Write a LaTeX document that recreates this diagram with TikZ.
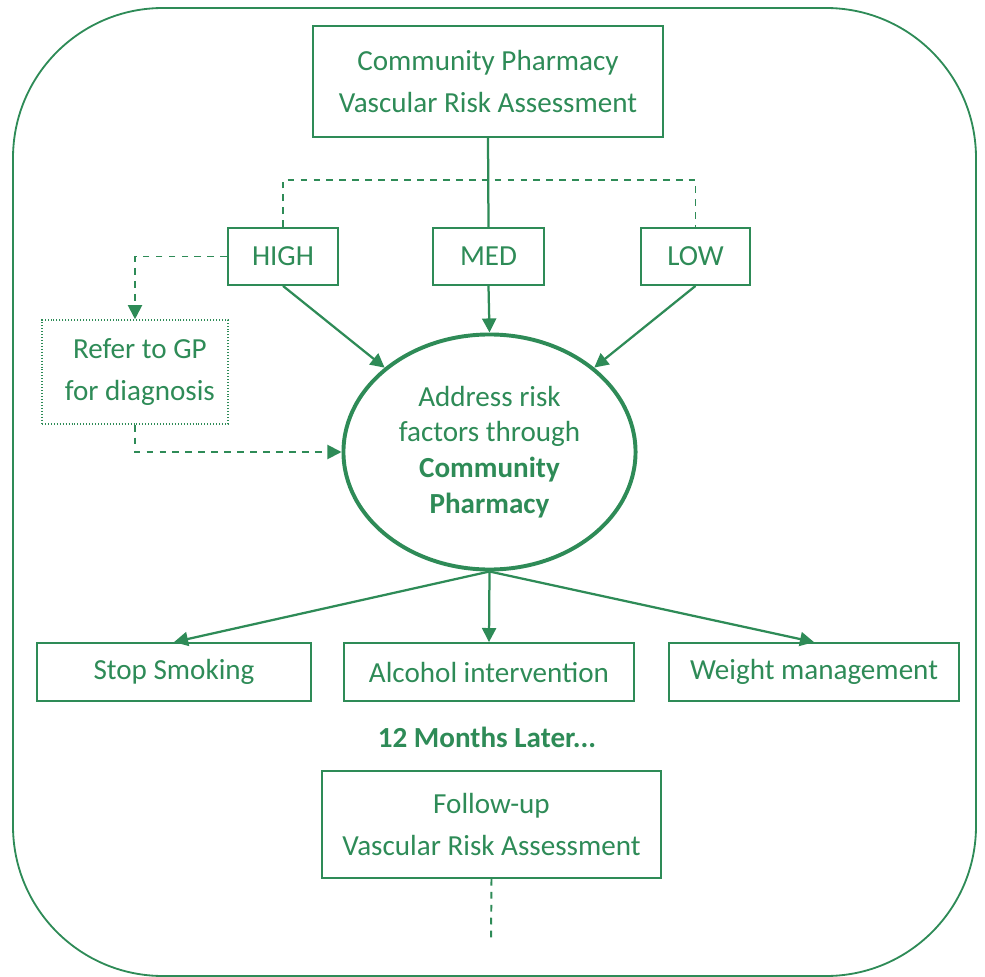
\documentclass[tikz,border=0pt]{standalone}
\usepackage{fontspec}
\setmainfont{Carlito}
\usepackage{tikz}
\usetikzlibrary{shapes.geometric, arrows.meta}
\definecolor{pgreen}{RGB}{46,139,87}

\begin{document}
\begin{tikzpicture}[x=0.025cm, y=-0.025cm,
		every node/.style={text=pgreen, font=\fontsize{20.7}{29.5}\selectfont, align=center},
		box/.style={draw=pgreen, line width=1.3pt, inner sep=0pt},
		link/.style={draw=pgreen, line width=1.6pt, -{Triangle[length=10pt,width=10pt]}},
		dashline/.style={draw=pgreen, line width=1.4pt, dash pattern=on 4.8pt off 4.4pt}]
				\useasboundingbox (0,0) rectangle (985,977);
				\draw[pgreen, line width=1.3pt, rounded corners=3.75cm] (13,8) rectangle (976,976);
				\node[box, minimum width=8.75cm, minimum height=2.775cm] (top) at (488,81.5) {Community Pharmacy\\Vascular Risk Assessment};
				\node[box, minimum width=2.75cm, minimum height=1.425cm] (high) at (283,256.5) {HIGH};
				\node[box, minimum width=2.775cm, minimum height=1.425cm] (med) at (488.5,256.5) {MED};
				\node[box, minimum width=2.725cm, minimum height=1.425cm] (low) at (695.5,256.5) {LOW};
				\node[box, line width=1.1pt, dash pattern=on 0.7pt off 1.4pt, minimum width=4.65cm, minimum height=2.6cm] (gp) at (135,372) {\,\,Refer to GP\\\,\,for diagnosis};
				\node[ellipse, draw=pgreen, line width=2.8pt, inner sep=0pt, minimum width=7.3cm, minimum height=5.875cm,
					font=\fontsize{20.7}{25.5}\selectfont] (ell) at (489.5,452) {Address risk\\factors through\\\textbf{Community}\\\textbf{Pharmacy}};
				\node[box, minimum width=6.85cm, minimum height=1.45cm] (stop) at (174,672) {Stop Smoking};
				\node[box, minimum width=7.25cm, minimum height=1.45cm] (alc) at (489,672) {Alcohol intervention};
				\node[box, minimum width=7.25cm, minimum height=1.45cm] (wt) at (814,672) {Weight management};
				\node (later) at (487,737) {\textbf{12 Months Later...}};
				\node[box, minimum width=8.475cm, minimum height=2.675cm] (follow) at (491.5,824.5) {Follow-up\\Vascular Risk Assessment};
				\coordinate (split) at (488,180);
				\coordinate (tail) at (491,940);
				% risk levels
				\draw[pgreen, line width=1.6pt] (top.south) -- (med.north);
				\draw[dashline] (high.north) |- (split) -| (low.north);
				\draw[link] (high.south) -- (ell);
				\draw[link] (med.south) -- (ell.north);
				\draw[link] (low.south) -- (ell);
				\draw[dashline, -{Triangle[length=10pt,width=10pt]}] (high.west) -| (gp.north);
				\draw[dashline, -{Triangle[length=10pt,width=10pt]}] (gp.south) |- (ell.west);
				% interventions
				\draw[link] (ell.south) -- (stop.north);
				\draw[link] (ell.south) -- (alc.north);
				\draw[link] (ell.south) -- (wt.north);
				\draw[dashline] (follow.south) -- (tail);
			\end{tikzpicture}
\end{document}
